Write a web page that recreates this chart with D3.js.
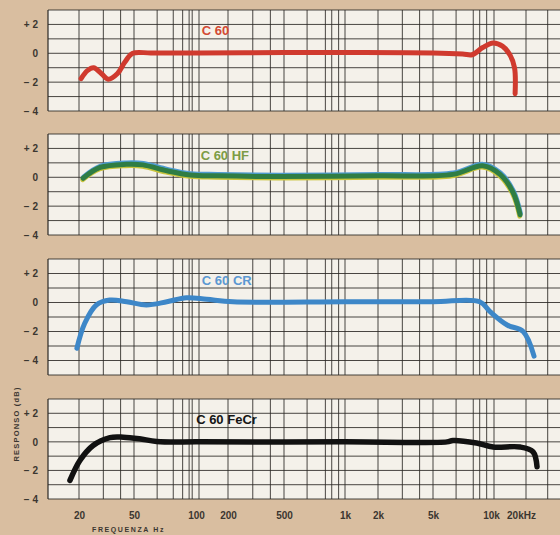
<!DOCTYPE html>
<html>
<head>
<meta charset="utf-8">
<script src="https://cdn.jsdelivr.net/npm/d3@7"></script>
<style>
  body { margin: 0; background: #d9be a0; background: #d9bea0; }
  svg { display: block; }
  .tick text { font-family: "Liberation Sans", Arial, sans-serif; font-weight: bold; fill: #3b3630; }
</style>
</head>
<body>
<svg id="chart" width="560" height="535"></svg>
<script>
// printed frequency labels (the paper is hand ruled, so the log scale is piecewise between them)
var freqLabels = [20, 50, 100, 200, 500, 1000, 2000, 5000, 10000, 20000];
var freqLabelText = ["20", "50", "100", "200", "500", "1k", "2k", "5k", "10k", "20kHz"];
// vertical rulings
var gridFreqs = [20, 30, 40, 50, 64, 76, 84, 90, 93, 100, 200, 300, 400, 500, 650, 800, 860, 930, 1000,
                 2000, 3000, 4000, 5000, 6500, 7900, 8500, 9200, 10000, 20000, 32000];
var dbTicks = [2, 0, -2, -4];

// C 60
var c60Freq = [20.7, 23, 25.5, 29, 32.5, 38, 43, 49, 60, 100, 500, 1000, 5000, 7000, 7800, 8800, 9900, 12000, 14100, 15600, 15800];
var c60Db   = [-1.75, -1.2, -1.0, -1.4, -1.8, -1.4, -0.6, 0, 0.02, 0.02, 0.05, 0.05, 0.02, -0.05, -0.1, 0.4, 0.72, 0.5, -0.1, -1.0, -2.8];
// C 60 HF
var c60hfFreq = [21.4, 28.4, 44, 55, 71, 91, 154, 468, 2000, 6270, 8800, 11400, 15100, 17600];
var c60hfDb   = [-0.07, 0.68, 0.9, 0.86, 0.45, 0.16, 0.1, 0.05, 0.1, 0.2, 0.8, 0.2, -1.05, -2.6];
// C 60 CR
var c60crFreq = [19.3, 22, 26.7, 33.4, 44.3, 57, 71, 87.5, 120, 217, 1000, 5000, 8500, 9560, 13300, 18800, 23800];
var c60crDb   = [-3.16, -1.43, -0.17, 0.17, 0.05, -0.17, 0.05, 0.33, 0.22, 0.05, 0.05, 0.05, 0.05, -0.63, -1.55, -2.0, -3.7];
// C 60 FeCr
var c60fecrFreq = [17.2, 20.3, 25.3, 33.5, 41.9, 53, 63.7, 102, 1000, 5860, 6270, 8200, 9900, 17600, 23300, 25400];
var c60fecrDb   = [-2.7, -1.3, -0.25, 0.3, 0.33, 0.22, 0.03, 0, 0, 0, 0.1, -0.08, -0.36, -0.36, -0.7, -1.75];

var svg = d3.select("#chart");
var W = 560, left = 48;

var x = d3.scaleLog()
    .domain(freqLabels)
    .range([79, 134, 199, 228, 284, 345, 378, 433, 494, 526]);

var panels = [
    {top: 10,  bottom: 111, lo: -4, title: "C 60",      tFreq: 107, tColor: "#d24a33", freq: c60Freq,    db: c60Db,    color: "#d03a2e"},
    {top: 134, bottom: 235, lo: -4, title: "C 60 HF",   tFreq: 104, tColor: "#7d9c45", freq: c60hfFreq,  db: c60hfDb,  color: "#2f7d44", shadow: true},
    {top: 259, bottom: 375, lo: -5, title: "C 60 CR",   tFreq: 107, tColor: "#5b98d2", freq: c60crFreq,  db: c60crDb,  color: "#3d87c8"},
    {top: 399, bottom: 499, lo: -4, title: "C 60 FeCr", tFreq: 97,  tColor: "#151515", freq: c60fecrFreq, db: c60fecrDb, color: "#111111"}
];

panels.forEach(function(p, i) {
    var y = d3.scaleLinear().domain([p.lo, 3]).range([p.bottom, p.top]);
    var g = svg.append("g").attr("class", "panel");

    g.append("rect")
        .attr("x", left).attr("y", p.top)
        .attr("width", W - left).attr("height", p.bottom - p.top)
        .attr("fill", "#f4f1ea");

    // horizontal rulings every dB
    g.selectAll(".hline").data(d3.range(p.lo, 4))
        .join("line")
        .attr("x1", left).attr("x2", W)
        .attr("y1", d => y(d)).attr("y2", d => y(d))
        .attr("stroke", "#2b2824").attr("stroke-width", 1).attr("opacity", 0.85);

    // vertical rulings
    g.selectAll(".vline").data(gridFreqs.filter(f => x(f) > left && x(f) < W))
        .join("line")
        .attr("x1", d => x(d)).attr("x2", d => x(d))
        .attr("y1", p.top).attr("y2", p.bottom)
        .attr("stroke", "#2b2824").attr("stroke-width", 1).attr("opacity", 0.85);

    g.append("line")
        .attr("x1", left).attr("x2", left).attr("y1", p.top).attr("y2", p.bottom)
        .attr("stroke", "#2b2824").attr("stroke-width", 1.2);

    // dB labels
    var ya = g.append("g")
        .attr("transform", "translate(" + left + ",0)")
        .call(d3.axisLeft(y).tickValues(dbTicks).tickSize(0).tickPadding(10)
            .tickFormat(d => d > 0 ? "+ " + d : d < 0 ? "\u2212 " + (-d) : "0"));
    ya.select(".domain").remove();
    ya.selectAll("text").style("font-size", "10px");

    g.append("text")
        .attr("x", x(p.tFreq)).attr("y", y(1.3) + (i == 0 ? 0 : 1))
        .attr("fill", p.tColor)
        .style("font-family", "'Liberation Sans', Arial, sans-serif")
        .style("font-weight", "bold").style("font-size", "13px")
        .text(p.title);

    var pts = p.freq.map((f, k) => ({f: f, db: p.db[k]}));
    var line = d3.line()
        .x(d => x(d.f)).y(d => y(d.db))
        .curve(d3.curveCatmullRom.alpha(0.5));

    if (p.shadow) {
        g.append("path").datum(pts).attr("d", line)
            .attr("transform", "translate(0.5,-1.6)")
            .attr("fill", "none").attr("stroke", "#4f9bd0").attr("stroke-width", 4.5).attr("stroke-linecap", "round");
        g.append("path").datum(pts).attr("d", line)
            .attr("transform", "translate(-0.5,1.6)")
            .attr("fill", "none").attr("stroke", "#c9c43c").attr("stroke-width", 4.5).attr("stroke-linecap", "round");
    }
    g.append("path").datum(pts).attr("d", line)
        .attr("fill", "none").attr("stroke", p.color)
        .attr("stroke-width", i == 3 ? 5.5 : 5)
        .attr("stroke-linecap", "round").attr("stroke-linejoin", "round");

    if (i == 3) {
        var xa = svg.append("g")
            .attr("transform", "translate(0," + p.bottom + ")")
            .call(d3.axisBottom(x).tickValues(freqLabels).tickSize(0).tickPadding(13)
                .tickFormat((d, k) => freqLabelText[k]));
        xa.select(".domain").remove();
        xa.selectAll("text").style("font-size", "10px")
            .attr("dx", (d, k) => k == 2 || k == 8 ? -3 : k == 9 ? -5 : 0);
    }
});

svg.append("text")
    .attr("x", 92).attr("y", 532)
    .attr("fill", "#3b3630")
    .style("font-family", "'Liberation Sans', Arial, sans-serif")
    .style("font-weight", "bold").style("font-size", "7px").style("letter-spacing", "1.6px")
    .text("FREQUENZA  Hz");

svg.append("text")
    .attr("transform", "translate(19,424) rotate(-90)")
    .attr("text-anchor", "middle")
    .attr("fill", "#3b3630")
    .style("font-family", "'Liberation Sans', Arial, sans-serif")
    .style("font-weight", "bold").style("font-size", "7.5px").style("letter-spacing", "1.2px")
    .text("RESPONSO (dB)");
</script>
</body>
</html>
